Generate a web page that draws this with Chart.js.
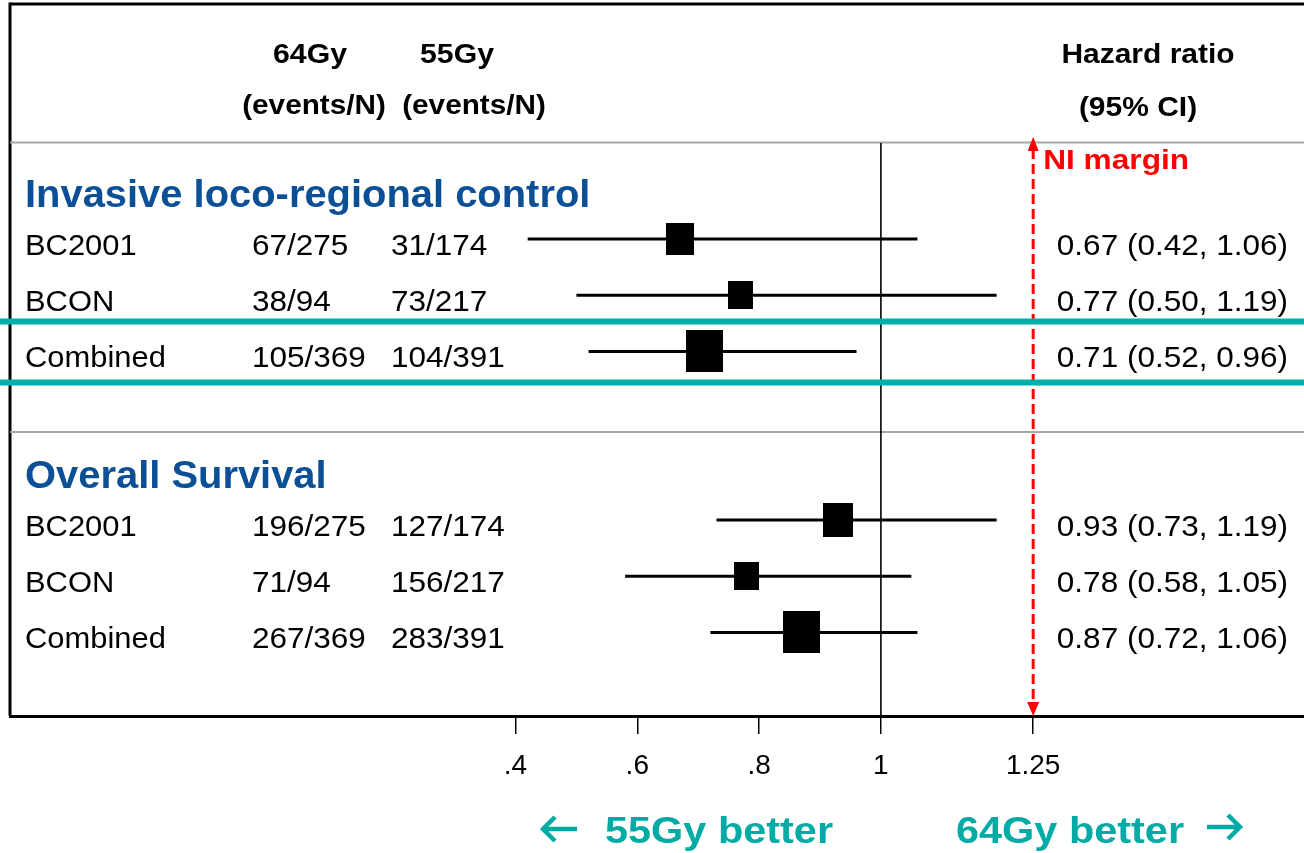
<!DOCTYPE html>
<html>
<head>
<title>Forest plot | 64Gy vs 55Gy</title>
<style>
body { margin: 0; background: #fff; }
canvas { display: block; }
</style>
</head>
<body>
<script src="https://cdn.jsdelivr.net/npm/chart.js"></script>
<canvas id="forest" width="1304" height="853"></canvas>
<script>
const groups = ['Invasive loco-regional control', 'Overall Survival'];
const studyGroup = [0, 0, 0, 1, 1, 1];
const studies = ['BC2001', 'BCON', 'Combined', 'BC2001', 'BCON', 'Combined'];
const events64 = ['67/275', '38/94', '105/369', '196/275', '71/94', '267/369'];
const events55 = ['31/174', '73/217', '104/391', '127/174', '156/217', '283/391'];
const hr = [0.67, 0.77, 0.71, 0.93, 0.78, 0.87];
const ciLow = [0.42, 0.50, 0.52, 0.73, 0.58, 0.72];
const ciHigh = [1.06, 1.19, 0.96, 1.19, 1.05, 1.06];
// relative weight of each estimate, the box area follows it
const weight = [0.59, 0.46, 1, 0.66, 0.46, 1];
const tickValues = [0.4, 0.6, 0.8, 1, 1.25];
const tickLabels = ['.4', '.6', '.8', '1', '1.25'];
const noEffect = 1;
const niMargin = 1.25;
const highlighted = 2; // pooled row that sits between the teal lines

// y rows: title row, then the studies, then a spacer, for each group
const rows = studyGroup.map((g, i) => g * 5 + studyGroup.slice(0, i).filter(v => v === g).length + 1);
const titleRows = groups.map((g, i) => i * 5);

const FONT = "'Liberation Sans', Arial, sans-serif";
const fmt = v => v.toFixed(2);

function makeBox(w) {
    const c = document.createElement('canvas');
    c.width = Math.round(37 * Math.sqrt(w));
    c.height = Math.round(42 * Math.sqrt(w));
    const g = c.getContext('2d');
    g.fillStyle = '#000';
    g.fillRect(0, 0, c.width, c.height);
    return c;
}

// text with a horizontal stretch factor
function text(ctx, s, x, y, font, color, align, sx) {
    ctx.save();
    ctx.font = font;
    ctx.fillStyle = color;
    ctx.textAlign = align;
    ctx.textBaseline = 'alphabetic';
    ctx.translate(x, y);
    ctx.scale(sx, 1);
    ctx.fillText(s, 0, 0);
    ctx.restore();
}

function hline(ctx, x1, x2, y, color, w) {
    ctx.save();
    ctx.strokeStyle = color;
    ctx.lineWidth = w;
    ctx.beginPath();
    ctx.moveTo(x1, y);
    ctx.lineTo(x2, y);
    ctx.stroke();
    ctx.restore();
}

// open arrow, dir -1 points left, +1 points right
function arrow(ctx, x1, x2, y, dir, color) {
    const tip = dir < 0 ? x1 : x2;
    ctx.save();
    ctx.strokeStyle = color;
    ctx.lineWidth = 4.5;
    ctx.lineJoin = 'miter';
    ctx.beginPath();
    ctx.moveTo(x1, y);
    ctx.lineTo(x2, y);
    ctx.moveTo(tip - dir * 12, y - 12);
    ctx.lineTo(tip, y);
    ctx.lineTo(tip - dir * 12, y + 12);
    ctx.stroke();
    ctx.restore();
}

const decorations = {
    id: 'decorations',
    beforeDraw(chart) {
        const ctx = chart.ctx;
        ctx.save();
        ctx.fillStyle = '#fff';
        ctx.fillRect(0, 0, chart.width, chart.height);
        ctx.restore();
    },
    beforeDatasetsDraw(chart) {
        const ctx = chart.ctx, a = chart.chartArea;
        const xs = chart.scales.x;
        // frame and separators
        hline(ctx, a.left, a.right, 4, '#000', 3);
        ctx.save();
        ctx.strokeStyle = '#000';
        ctx.lineWidth = 3;
        ctx.beginPath();
        ctx.moveTo(a.left, 2.5);
        ctx.lineTo(a.left, a.bottom);
        ctx.stroke();
        ctx.restore();
        hline(ctx, a.left, a.right, 142.5, '#a6a6a6', 2);
        hline(ctx, a.left, a.right, 432, '#a6a6a6', 2);

        // line of no effect
        const x1 = xs.getPixelForValue(noEffect);
        ctx.save();
        ctx.strokeStyle = '#000';
        ctx.lineWidth = 1.6;
        ctx.beginPath();
        ctx.moveTo(x1, 143);
        ctx.lineTo(x1, a.bottom);
        ctx.stroke();

        // non-inferiority margin
        const xn = xs.getPixelForValue(niMargin);
        ctx.strokeStyle = '#ff0000';
        ctx.fillStyle = '#ff0000';
        ctx.lineWidth = 3;
        ctx.setLineDash([10, 5]);
        ctx.beginPath();
        ctx.moveTo(xn, 149);
        ctx.lineTo(xn, a.bottom - 12);
        ctx.stroke();
        ctx.setLineDash([]);
        ctx.beginPath();
        ctx.moveTo(xn, 137);
        ctx.lineTo(xn - 5.5, 151);
        ctx.lineTo(xn + 5.5, 151);
        ctx.closePath();
        ctx.fill();
        ctx.beginPath();
        ctx.moveTo(xn, a.bottom);
        ctx.lineTo(xn - 6, a.bottom - 14);
        ctx.lineTo(xn + 6, a.bottom - 14);
        ctx.closePath();
        ctx.fill();
        ctx.restore();
        text(ctx, 'NI margin', xn + 10, 169, 'bold 28px ' + FONT, '#ff0000', 'left', 1.13);
    },
    afterDatasetsDraw(chart) {
        const ctx = chart.ctx;
        const ys = chart.scales.y;
        const black = '#000';

        // column headers
        const head = 'bold 27px ' + FONT;
        text(ctx, '64Gy', 310, 63, head, black, 'center', 1.12);
        text(ctx, '55Gy', 457, 63, head, black, 'center', 1.12);
        text(ctx, '(events/N)', 314, 114, head, black, 'center', 1.1);
        text(ctx, '(events/N)', 474, 114, head, black, 'center', 1.1);
        text(ctx, 'Hazard ratio', 1148, 63, head, black, 'center', 1.11);
        text(ctx, '(95% CI)', 1138, 116, head, black, 'center', 1.11);

        // group titles
        groups.forEach((g, i) => {
            text(ctx, g, 25, ys.getPixelForValue(titleRows[i]) + 24, 'bold 38px ' + FONT, '#0b4f96', 'left', 1.05);
        });

        // study rows
        const body = '30px ' + FONT;
        studies.forEach((s, i) => {
            const y = ys.getPixelForValue(rows[i]) + 16;
            text(ctx, s, 25, y, body, black, 'left', 1.03);
            text(ctx, events64[i], 252, y, body, black, 'left', 1.05);
            text(ctx, events55[i], 391, y, body, black, 'left', 1.05);
            text(ctx, fmt(hr[i]) + ' (' + fmt(ciLow[i]) + ', ' + fmt(ciHigh[i]) + ')', 1288, y, body, black, 'right', 1.05);
        });

        // teal band around the pooled estimate
        const yh = ys.getPixelForValue(rows[highlighted]);
        hline(ctx, 0, chart.width, yh - 30, '#00afaa', 6);
        hline(ctx, 0, chart.width, yh + 31, '#00afaa', 6);

        // direction labels
        const teal = '#00aaa5';
        const big = 'bold 37px ' + FONT;
        arrow(ctx, 543, 577, 829, -1, teal);
        text(ctx, '55Gy better', 605, 843, big, teal, 'left', 1.12);
        text(ctx, '64Gy better', 956, 843, big, teal, 'left', 1.12);
        arrow(ctx, 1207, 1240, 827, 1, teal);
    }
};

const ciSets = ciLow.map((lo, i) => ({
    type: 'line',
    data: [{ x: lo, y: rows[i] }, { x: ciHigh[i], y: rows[i] }],
    borderColor: '#000',
    borderWidth: 3,
    pointRadius: 0,
    order: 2
}));

const ctx = document.getElementById('forest').getContext('2d');
const forest = new Chart(ctx, {
    type: 'scatter',
    data: {
        datasets: [{
            label: 'Hazard ratio',
            data: hr.map((v, i) => ({ x: v, y: rows[i] })),
            pointStyle: weight.map(makeBox),
            pointRadius: 10,
            order: 1
        }].concat(ciSets)
    },
    options: {
        responsive: false,
        animation: false,
        layout: { autoPadding: false, padding: { left: 10, right: 0, top: 3, bottom: 0 } },
        plugins: { legend: { display: false }, tooltip: { enabled: false } },
        scales: {
            x: {
                type: 'linear',
                min: -0.43,
                max: 1.6947,
                afterBuildTicks: scale => { scale.ticks = tickValues.map(v => ({ value: v })); },
                afterFit: scale => { scale.height = 137; },
                border: { display: true, color: '#000', width: 3 },
                grid: { drawOnChartArea: false, drawTicks: true, tickLength: 18, color: '#000', lineWidth: 1.5 },
                ticks: {
                    autoSkip: false,
                    maxRotation: 0,
                    padding: 15,
                    color: '#000',
                    font: { family: FONT, size: 28 },
                    callback: (v, i) => tickLabels[i]
                }
            },
            y: {
                type: 'linear',
                display: false,
                reverse: true,
                min: -3.2,
                max: 9.487
            }
        }
    },
    plugins: [decorations]
});
</script>
</body>
</html>
